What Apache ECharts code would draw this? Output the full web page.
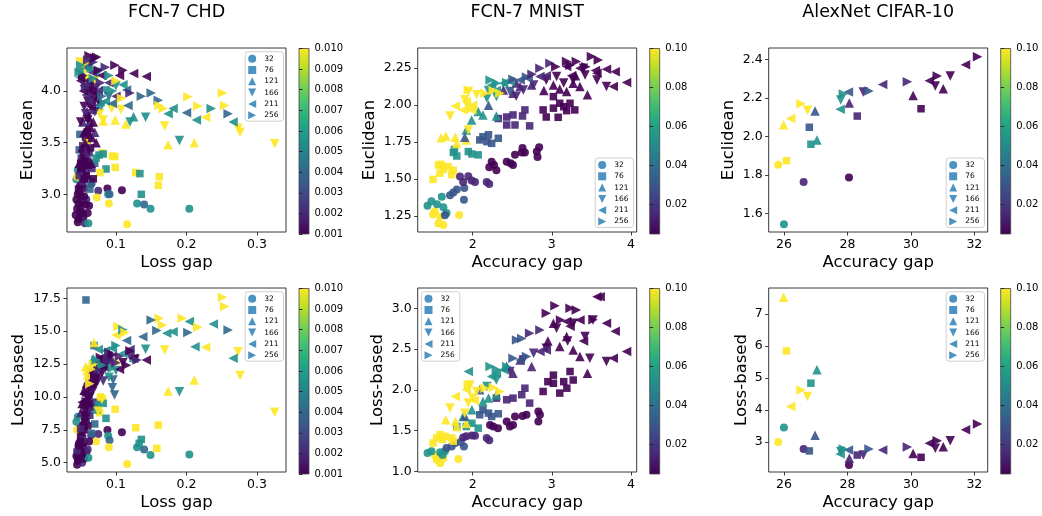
<!DOCTYPE html>
<html><head><meta charset="utf-8">
<script src="https://cdn.jsdelivr.net/npm/echarts@6/dist/echarts.min.js"></script>
<style>html,body{margin:0;padding:0;background:#fff}#c{width:1042px;height:516px}</style>
</head><body><div id="c"></div>
<script>
// ---------- DATA ----------
const titles = ['FCN-7 CHD', 'FCN-7 MNIST', 'AlexNet CIFAR-10'];
const markerNames = ['32', '76', '121', '166', '211', '256'];
// colour levels (colour value per level index)
const chdLevels = [0.001, 0.002, 0.004, 0.0055, 0.01];
const imgLevels = [0.005, 0.015, 0.03, 0.053, 0.1];
// tick labels
const chdXTicks = [0.1, 0.2, 0.3];
const chdEucTicks = [3.0, 3.5, 4.0];
const chdLossTicks = [5.0, 7.5, 10.0, 12.5, 15.0, 17.5];
const mnistXTicks = [2, 3, 4];
const mnistEucTicks = [1.25, 1.5, 1.75, 2.0, 2.25];
const mnistLossTicks = [1.0, 1.5, 2.0, 2.5, 3.0];
const cifarXTicks = [26, 28, 30, 32];
const cifarEucTicks = [1.6, 1.8, 2.0, 2.2, 2.4];
const cifarLossTicks = [3, 4, 5, 6, 7];
const chdCbarTicks = [0.001, 0.002, 0.003, 0.004, 0.005, 0.006, 0.007, 0.008, 0.009, 0.010];
const imgCbarTicks = [0.02, 0.04, 0.06, 0.08, 0.10];

// points: [x, y, levelIndex, markerIndex]
const chdEuclidean = [
 [0.046,2.73,0,0],[0.049,2.83,0,0],[0.047,2.91,0,0],[0.054,2.78,0,0],[0.056,2.72,1,0],[0.062,2.89,0,0],[0.051,2.98,1,0],[0.045,2.86,0,0],[0.052,2.93,0,0],[0.058,2.95,1,0],[0.048,3.02,0,0],[0.055,3.06,0,0],[0.05,2.8,1,0],[0.044,2.95,0,0],[0.088,3.055,0,0],[0.1085,3.04,0,0],[0.089,3.0,3,0],[0.091,3.0,2,0],[0.09,2.91,4,0],[0.075,3.035,1,0],[0.061,2.72,3,0],[0.116,2.71,4,0],[0.13,2.91,3,0],[0.14,2.9,2,0],[0.149,2.86,3,0],[0.204,2.86,3,0],[0.044,3.145,3,0],[0.046,3.235,3,0],[0.045,3.17,4,0],[0.073,2.97,4,0],[0.065,3.1,1,0],[0.06,3.15,0,0],[0.057,3.22,1,0],
 [0.047,2.76,0,0],[0.05,2.87,0,0],[0.053,2.82,0,0],[0.057,2.9,0,0],[0.046,3.0,0,0],[0.049,3.08,0,0],[0.052,3.1,0,0],[0.043,2.8,0,0],[0.055,2.98,0,0],[0.06,2.82,0,0],
 [0.136,3.0,3,1],[0.16,3.087,4,1],[0.1615,3.17,4,1],[0.128,3.21,4,1],[0.134,3.2,3,1],[0.0986,3.365,4,1],[0.095,3.37,4,1],[0.0991,3.26,4,1],[0.086,3.245,3,1],[0.0774,3.21,4,1],[0.08,3.4,4,1],[0.076,3.38,3,1],[0.082,3.39,3,1],[0.0656,3.12,2,1],[0.063,3.05,2,1],[0.048,3.43,2,1],[0.049,3.58,2,1],[0.051,3.35,1,1],[0.055,3.28,0,1],[0.058,3.18,0,1],[0.06,3.32,0,1],[0.062,3.4,1,1],[0.053,3.12,1,1],[0.047,3.05,0,1],[0.05,3.22,0,1],[0.066,3.25,1,1],[0.07,3.3,2,1],[0.072,3.35,3,1],[0.064,3.45,0,1],[0.059,3.5,1,1],[0.068,3.15,0,1],[0.054,3.38,0,1],
 [0.052,3.25,0,1],[0.056,3.35,0,1],[0.058,3.42,0,1],[0.061,3.28,0,1],[0.05,3.3,0,1],[0.053,3.47,1,1],[0.057,3.55,0,1],[0.048,3.18,1,1],[0.06,3.6,0,1],[0.055,3.15,0,1],
 [0.174,3.48,4,2],[0.211,3.5,4,2],[0.125,3.75,3,2],[0.114,3.68,4,2],[0.099,3.72,4,2],[0.082,3.71,4,2],[0.058,3.53,4,2],[0.055,3.6,0,2],[0.06,3.65,0,2],[0.063,3.7,1,2],[0.052,3.45,0,2],[0.057,3.4,1,2],[0.066,3.55,0,2],[0.07,3.6,1,2],[0.061,3.75,0,2],[0.067,3.82,1,2],[0.072,3.5,0,2],[0.065,3.3,0,2],[0.074,3.85,3,2],[0.078,3.9,2,2],[0.053,3.7,1,2],[0.048,3.3,0,2],
 [0.058,3.62,0,2],[0.062,3.58,0,2],[0.059,3.8,0,2],[0.064,3.65,0,2],[0.056,3.5,0,2],[0.068,3.7,0,2],[0.054,3.35,0,2],
 [0.325,3.49,4,3],[0.276,3.6,4,3],[0.273,3.64,4,3],[0.169,3.66,4,3],[0.142,3.745,3,3],[0.19,3.52,3,3],[0.12,3.7,3,3],[0.094,3.83,4,3],[0.107,3.82,4,3],[0.077,3.78,4,3],[0.082,3.72,4,3],[0.08,3.86,3,3],[0.049,4.28,4,3],[0.058,4.12,4,3],[0.056,4.2,4,3],[0.064,4.25,3,3],[0.07,4.1,4,3],[0.06,3.9,0,3],[0.062,3.98,1,3],[0.055,3.85,0,3],[0.066,3.95,0,3],[0.072,4.03,1,3],[0.057,3.78,1,3],[0.05,3.7,0,3],[0.085,4.0,3,3],[0.09,3.95,2,3],[0.1,4.05,3,3],[0.075,4.18,3,3],
 [0.064,3.85,0,3],[0.068,3.9,0,3],[0.063,4.0,0,3],[0.07,3.8,1,3],[0.073,3.95,0,3],[0.06,3.72,0,3],
 [0.214,3.72,3,4],[0.2,3.79,2,4],[0.181,3.83,3,4],[0.174,3.78,3,4],[0.266,3.7,3,4],[0.227,3.745,4,4],[0.115,4.01,2,4],[0.117,3.86,2,4],[0.0476,4.2,3,4],[0.049,4.13,3,4],[0.143,4.14,0,4],[0.125,4.17,0,4],[0.105,4.15,0,4],[0.11,4.06,3,4],[0.09,4.08,1,4],[0.08,4.15,0,4],[0.062,4.05,0,4],[0.067,4.18,1,4],[0.058,3.96,1,4],[0.054,4.0,0,4],[0.07,3.92,0,4],[0.075,4.0,1,4],[0.085,3.9,3,4],[0.095,3.88,2,4],[0.05,4.1,0,4],[0.06,4.22,2,4],[0.1,3.95,1,4],[0.065,3.85,0,4],
 [0.055,4.05,1,4],[0.06,4.1,0,4],[0.058,4.25,1,4],[0.066,4.0,0,4],[0.062,3.9,1,4],
 [0.062,4.34,0,5],[0.0727,4.33,0,5],[0.0986,4.25,0,5],[0.11,4.2,0,5],[0.136,3.95,2,5],[0.15,3.98,2,5],[0.16,3.91,2,5],[0.161,3.86,4,5],[0.167,3.83,4,5],[0.202,3.945,4,5],[0.216,3.855,4,5],[0.235,3.83,3,5],[0.251,3.98,4,5],[0.254,3.86,4,5],[0.259,3.78,2,5],[0.058,4.27,4,5],[0.065,4.22,3,5],[0.075,4.2,0,5],[0.085,4.23,1,5],[0.09,4.15,3,5],[0.1,4.1,4,5],[0.068,4.12,3,5],[0.078,4.08,1,5],[0.053,4.15,0,5],[0.057,4.05,1,5],[0.08,3.95,2,5],[0.095,4.0,3,5],[0.12,3.98,1,5],[0.108,3.93,4,5],
 [0.06,4.3,1,5],[0.068,4.28,1,5],[0.07,4.32,0,5],[0.05,4.25,3,5],[0.048,4.18,3,5]
];
const chdLossBased = [
 [0.045,4.85,0,0],[0.047,5.1,0,0],[0.05,5.4,0,0],[0.046,5.7,0,0],[0.052,5.0,1,0],[0.055,5.3,0,0],[0.049,6.0,1,0],[0.058,5.8,0,0],[0.053,6.2,0,0],[0.06,6.0,1,0],[0.044,5.5,0,0],[0.048,6.5,0,0],[0.088,7.48,0,0],[0.1085,7.31,0,0],[0.075,7.18,1,0],[0.089,7.05,3,0],[0.091,6.7,2,0],[0.13,6.17,3,0],[0.149,5.58,3,0],[0.204,5.63,3,0],[0.09,6.17,4,0],[0.072,6.6,4,0],[0.116,4.9,4,0],[0.061,5.38,3,0],[0.14,6.01,2,0],[0.044,8.12,3,0],[0.046,8.5,3,0],[0.045,7.5,4,0],[0.065,7.1,1,0],[0.062,6.6,0,0],
 [0.046,5.2,0,0],[0.048,5.5,0,0],[0.05,5.9,0,0],[0.047,6.3,0,0],[0.052,5.6,0,0],[0.045,5.9,1,0],[0.051,6.8,0,0],[0.054,6.5,0,0],
 [0.0576,17.37,2,1],[0.099,9.06,4,1],[0.081,9.72,4,1],[0.077,8.8,4,1],[0.128,7.66,4,1],[0.16,7.86,4,1],[0.158,6.09,4,1],[0.086,8.37,3,1],[0.136,6.77,3,1],[0.133,6.47,3,1],[0.082,9.51,3,1],[0.07,7.94,2,1],[0.0656,7.23,2,1],[0.069,13.9,2,1],[0.05,7.0,0,1],[0.055,7.5,0,1],[0.058,8.2,1,1],[0.053,6.8,1,1],[0.06,7.8,0,1],[0.063,8.6,1,1],[0.048,6.3,0,1],[0.066,9.2,0,1],[0.07,9.6,1,1],[0.073,9.0,3,1],[0.062,9.8,2,1],[0.057,10.3,1,1],[0.078,10.0,4,1],[0.075,9.4,3,1],
 [0.052,7.3,0,1],[0.054,7.8,0,1],[0.056,8.4,0,1],[0.058,8.8,0,1],[0.05,7.6,1,1],[0.06,9.0,1,1],[0.055,9.3,0,1],[0.062,9.5,0,1],[0.05,6.6,0,1],
 [0.174,10.45,4,2],[0.211,11.29,4,2],[0.069,14.13,4,2],[0.059,12.0,4,2],[0.062,11.5,4,2],[0.055,10.5,0,2],[0.058,11.0,0,2],[0.06,10.0,1,2],[0.065,11.8,1,2],[0.07,12.3,0,2],[0.075,12.6,3,2],[0.08,12.9,3,2],[0.085,12.5,1,2],[0.09,13.0,0,2],[0.052,9.5,0,2],[0.05,8.8,1,2],[0.068,12.9,3,2],[0.125,13.0,3,2],[0.1,12.8,4,2],[0.057,12.3,4,2],
 [0.058,9.8,0,2],[0.061,10.5,0,2],[0.064,11.2,0,2],[0.067,11.0,1,2],[0.072,11.8,0,2],[0.066,12.4,3,2],[0.06,11.7,4,2],[0.054,8.2,0,2],
 [0.142,13.62,3,3],[0.19,10.4,3,3],[0.169,13.57,4,3],[0.276,11.62,4,3],[0.273,13.44,4,3],[0.325,8.83,4,3],[0.127,12.86,0,3],[0.096,11.29,2,3],[0.098,10.15,2,3],[0.095,10.7,2,3],[0.06,9.3,0,3],[0.065,10.2,1,3],[0.07,10.8,0,3],[0.075,11.3,1,3],[0.08,11.8,0,3],[0.085,12.2,1,3],[0.09,11.5,3,3],[0.1,12.0,3,3],[0.055,8.6,0,3],[0.11,12.6,0,3],[0.12,13.1,1,3],[0.08,9.8,4,3],[0.075,8.9,4,3],[0.07,12.1,4,3],
 [0.063,10.0,0,3],[0.068,10.9,0,3],[0.072,11.4,1,3],[0.078,12.1,0,3],[0.082,11.2,1,3],[0.057,9.6,0,3],
 [0.181,14.96,3,4],[0.172,14.84,3,4],[0.204,15.73,3,4],[0.238,15.55,3,4],[0.212,13.82,3,4],[0.266,12.94,3,4],[0.227,13.77,4,4],[0.138,14.58,2,4],[0.115,14.28,2,4],[0.1,14.71,4,4],[0.143,12.81,0,4],[0.125,12.94,0,4],[0.105,12.1,0,4],[0.11,13.3,3,4],[0.09,12.7,1,4],[0.085,13.5,3,4],[0.08,13.0,0,4],[0.072,12.6,1,4],[0.065,11.9,0,4],[0.06,11.0,1,4],[0.056,10.2,0,4],[0.052,9.6,0,4],[0.095,13.7,3,4],[0.075,13.6,3,4],[0.12,13.6,1,4],[0.068,11.2,0,4],
 [0.074,12.2,0,4],[0.078,12.7,1,4],[0.083,12.3,0,4],[0.088,13.1,0,4],[0.062,10.7,0,4],[0.07,11.5,0,4],
 [0.251,17.58,4,5],[0.254,16.87,4,5],[0.161,15.98,4,5],[0.166,15.47,4,5],[0.194,15.98,4,5],[0.216,15.3,4,5],[0.15,15.85,2,5],[0.158,15.04,2,5],[0.259,15.09,2,5],[0.202,14.9,2,5],[0.103,15.35,4,5],[0.11,15.1,3,5],[0.113,14.9,4,5],[0.1,13.9,3,5],[0.09,13.4,1,5],[0.085,12.8,0,5],[0.08,12.4,3,5],[0.075,12.0,1,5],[0.07,11.6,0,5],[0.105,13.1,1,5],[0.12,13.5,0,5],[0.13,12.8,1,5],[0.115,12.4,0,5],[0.063,11.0,4,5],[0.068,12.5,4,5],[0.095,12.2,3,5],
 [0.078,13.0,0,5],[0.088,12.9,1,5],[0.095,13.2,0,5],[0.1,12.6,1,5],[0.072,12.8,3,5],[0.065,12.1,4,5]
];
const mnistEuclidean = [
 [1.52,1.28,4,0],[1.59,1.245,4,0],[1.567,1.2,4,0],[1.63,1.19,4,0],[1.5,1.26,4,0],[1.83,1.257,4,0],[1.43,1.32,3,0],[1.48,1.35,3,0],[1.55,1.33,3,0],[1.63,1.31,3,0],[1.67,1.27,3,0],[1.61,1.38,3,0],[1.65,1.256,2,0],[1.714,1.39,2,0],[1.756,1.41,2,0],[1.8,1.43,2,0],[1.895,1.44,2,0],[1.89,1.36,2,0],[1.84,1.517,1,0],[1.945,1.52,1,0],[1.987,1.49,1,0],[2.03,1.48,1,0],[1.88,1.48,1,0],[2.177,1.48,1,0],[2.21,1.467,1,0],[2.24,1.618,0,0],[2.27,1.595,0,0],[2.3,1.56,0,0],[2.21,1.58,0,0],[2.43,1.618,0,0],[2.48,1.607,0,0],[2.51,1.595,0,0],[2.535,1.664,0,0],[2.62,1.68,0,0],[2.66,1.68,0,0],[2.63,1.71,0,0],[2.81,1.686,0,0],[2.84,1.715,0,0],[2.82,1.65,0,0],
 [1.5,1.498,4,1],[1.567,1.595,4,1],[1.63,1.566,4,1],[1.69,1.584,4,1],[1.756,1.56,4,1],[1.735,1.53,4,1],[1.587,1.54,4,1],[1.6,1.6,4,1],[1.756,1.68,3,1],[1.8,1.656,3,1],[1.945,1.686,3,1],[1.99,1.67,3,1],[2.07,1.664,3,1],[1.77,1.7,3,1],[2.09,1.765,2,1],[2.13,1.787,2,1],[2.18,1.753,2,1],[2.24,1.742,2,1],[2.324,1.776,2,1],[2.2,1.8,2,1],[2.324,1.91,1,1],[2.43,1.866,1,1],[2.535,1.866,1,1],[2.51,1.934,1,1],[2.63,1.927,1,1],[2.72,1.86,1,1],[2.66,1.968,1,1],[2.43,1.92,1,1],[2.89,1.968,0,1],[3.02,1.98,0,1],[3.1,2.013,0,1],[3.187,1.963,0,1],[3.29,1.968,0,1],[2.93,1.92,0,1],[3.08,1.918,0,1],[3.23,2.013,0,1],[3.02,2.058,0,1],[3.15,1.99,0,1],
 [1.66,1.792,4,2],[1.78,1.783,4,2],[1.92,1.765,4,2],[1.8,1.74,4,2],[1.6,1.78,4,2],[1.987,1.9,3,2],[2.13,1.934,3,2],[2.3,1.927,3,2],[2.07,1.957,3,2],[1.92,1.832,3,2],[1.9,1.783,2,2],[2.2,2.0,2,2],[2.39,2.103,1,2],[2.6,2.126,1,2],[2.745,2.137,1,2],[2.51,2.08,1,2],[2.55,2.15,1,2],[3.02,2.137,0,2],[3.187,2.092,0,2],[3.355,2.126,0,2],[3.45,2.07,0,2],[3.27,2.148,0,2],[3.1,2.11,0,2],[2.9,2.1,0,2],[3.3,2.2,0,2],
 [1.714,1.927,4,3],[1.945,2.092,4,3],[1.945,1.832,4,3],[1.9,2.036,4,3],[2.05,2.07,4,3],[1.95,1.98,4,3],[2.18,2.047,3,3],[2.3,2.058,3,3],[2.2,2.1,3,3],[2.47,2.092,2,3],[2.64,2.103,1,3],[2.77,2.137,1,3],[2.55,2.06,1,3],[2.93,2.17,0,3],[3.06,2.194,0,3],[3.27,2.17,0,3],[3.42,2.205,0,3],[3.57,2.17,0,3],[3.69,2.126,0,3],[3.4,2.25,0,3],[3.15,2.15,0,3],
 [1.78,1.995,4,4],[1.92,2.024,4,4],[1.88,1.968,4,4],[1.99,1.968,4,4],[2.0,2.0,4,4],[2.24,2.137,3,4],[2.39,2.148,3,4],[2.47,2.16,3,4],[2.3,2.1,3,4],[2.6,2.17,2,4],[2.7,2.182,2,4],[2.85,2.194,1,4],[2.93,2.2,1,4],[3.187,2.261,0,4],[3.355,2.25,0,4],[3.57,2.216,0,4],[3.69,2.243,0,4],[3.8,2.227,0,4],[3.944,2.153,0,4],[3.776,2.126,0,4],[3.55,2.235,0,4],[3.25,2.2,0,4],
 [1.945,2.103,4,5],[2.156,2.08,4,5],[2.345,2.08,4,5],[2.26,2.1,4,5],[2.22,2.17,3,5],[2.3,2.148,3,5],[2.43,2.153,3,5],[2.51,2.175,2,5],[2.68,2.19,2,5],[2.85,2.25,1,5],[2.976,2.284,1,5],[2.75,2.21,1,5],[3.187,2.295,0,5],[3.31,2.295,0,5],[3.5,2.33,0,5],[3.587,2.306,0,5],[3.43,2.26,0,5],[3.23,2.27,0,5],[3.05,2.26,0,5]
];
const mnistLossBased = [
 [1.545,1.143,4,0],[1.59,1.1,4,0],[1.52,1.2,4,0],[1.63,1.16,4,0],[1.82,1.15,4,0],[1.56,1.17,4,0],[1.43,1.224,3,0],[1.48,1.245,3,0],[1.59,1.233,3,0],[1.65,1.245,3,0],[1.62,1.2,3,0],[1.67,1.286,2,0],[1.735,1.306,2,0],[1.78,1.347,2,0],[1.89,1.306,2,0],[1.85,1.36,2,0],[1.92,1.43,1,0],[1.99,1.44,1,0],[2.03,1.437,1,0],[1.88,1.416,1,0],[2.177,1.408,1,0],[2.21,1.38,1,0],[2.22,1.57,0,0],[2.26,1.55,0,0],[2.32,1.53,0,0],[2.43,1.612,0,0],[2.47,1.55,0,0],[2.51,1.57,0,0],[2.535,1.673,0,0],[2.63,1.68,0,0],[2.68,1.694,0,0],[2.83,1.735,0,0],[2.85,1.694,0,0],[2.83,1.612,0,0],
 [1.5,1.347,4,1],[1.59,1.45,4,1],[1.65,1.43,4,1],[1.735,1.41,4,1],[1.756,1.37,4,1],[1.545,1.41,4,1],[1.62,1.39,4,1],[1.8,1.55,3,1],[1.92,1.55,3,1],[1.99,1.59,3,1],[2.07,1.53,3,1],[2.09,1.694,2,1],[2.13,1.755,2,1],[2.2,1.714,2,1],[2.24,1.673,2,1],[2.324,1.706,2,1],[2.3,1.898,1,1],[2.43,1.878,1,1],[2.51,1.898,1,1],[2.62,1.94,1,1],[2.72,1.837,1,1],[2.66,2.02,1,1],[2.89,1.98,0,1],[3.02,2.08,0,1],[3.1,1.96,0,1],[3.19,2.02,0,1],[3.27,2.12,0,1],[3.23,2.225,0,1],[3.02,2.18,0,1],[2.95,2.1,0,1],[3.15,2.1,0,1],
 [1.66,1.633,4,2],[1.78,1.612,4,2],[1.92,1.59,4,2],[1.8,1.55,4,2],[1.88,1.673,3,2],[1.99,1.755,3,2],[2.13,1.857,3,2],[2.3,1.94,3,2],[2.2,1.9,3,2],[1.9,1.68,2,2],[2.09,2.0,2,2],[2.43,2.286,1,2],[2.6,2.367,1,2],[2.745,2.286,1,2],[2.51,2.204,1,2],[3.02,2.816,0,2],[3.187,2.653,0,2],[3.355,2.408,0,2],[3.45,2.204,0,2],[3.27,2.49,0,2],[3.1,2.53,0,2],[2.95,2.6,0,2],
 [1.714,1.776,4,3],[1.945,1.837,4,3],[1.9,1.714,4,3],[2.05,1.98,4,3],[1.966,2.06,4,3],[2.0,1.9,4,3],[2.18,2.04,3,3],[2.3,2.12,3,3],[2.47,2.224,1,3],[2.64,2.367,1,3],[2.77,2.45,1,3],[2.93,2.51,0,3],[3.06,2.755,0,3],[3.27,2.816,0,3],[3.42,2.653,0,3],[3.52,2.857,0,3],[3.69,2.347,0,3],[3.48,2.388,0,3],[3.2,2.6,0,3],
 [1.78,1.918,4,4],[1.92,2.0,4,4],[2.02,1.87,4,4],[1.945,2.224,3,4],[2.24,2.163,3,4],[2.39,2.245,3,4],[2.3,2.2,3,4],[2.6,2.367,2,4],[2.85,2.47,1,4],[2.93,2.49,1,4],[3.187,2.837,0,4],[3.355,2.857,0,4],[3.57,3.143,0,4],[3.61,3.143,0,4],[3.69,2.816,0,4],[3.8,2.72,0,4],[3.944,2.47,0,4],[3.776,2.388,0,4],[3.23,2.78,0,4],[3.4,2.6,0,4],
 [1.945,2.06,4,5],[2.156,2.02,4,5],[2.345,1.98,4,5],[2.26,2.03,4,5],[2.22,2.286,3,5],[2.3,2.25,3,5],[2.43,2.286,3,5],[2.51,2.388,2,5],[2.68,2.41,2,5],[2.555,2.61,2,5],[2.62,2.63,2,5],[2.72,2.694,1,5],[2.85,2.735,1,5],[2.93,2.94,0,5],[3.04,3.03,0,5],[3.23,3.0,0,5],[3.31,2.98,0,5],[3.11,2.857,0,5],[3.52,2.86,0,5]
];
// CIFAR-10: [accuracy gap, Euclidean, Loss-based, levelIndex, markerIndex]
const cifarPoints = [
 [25.82,1.854,3.0,4,0],[26.0,1.545,3.45,3,0],[26.62,1.764,2.78,1,0],[28.05,1.787,2.28,0,0],
 [26.08,1.875,5.85,4,1],[26.8,2.048,2.72,2,1],[26.85,1.96,4.84,3,1],[28.31,2.106,2.59,1,1],[30.32,2.144,2.52,0,1],
 [25.99,2.061,7.53,4,2],[26.98,2.132,3.21,2,2],[27.04,1.982,5.26,3,2],[28.06,2.174,2.49,1,2],[30.07,2.213,2.64,0,2],[31.02,2.248,2.85,0,2],
 [26.74,2.136,4.42,4,3],[27.79,2.189,2.7,3,3],[28.5,2.231,2.59,1,3],[30.77,2.262,2.8,0,3],[31.24,2.314,3.04,0,3],
 [26.21,2.094,4.11,4,4],[27.77,2.141,2.62,3,4],[28.03,2.231,2.75,2,4],[29.11,2.27,2.75,1,4],[30.58,2.289,2.96,0,4],[31.72,2.372,3.38,0,4],
 [26.54,2.17,4.63,4,5],[27.87,2.22,2.78,3,5],[28.68,2.236,2.78,2,5],[29.89,2.284,2.84,1,5],[30.83,2.314,3.04,0,5],[32.1,2.414,3.56,0,5]
];

// ---------- STYLE / LAYOUT ----------
const viridis = ['#440154','#482475','#414487','#355f8d','#2a788e','#21918c','#22a884','#44bf70','#7ad151','#bddf26','#fde725'];
const FONT = 'DejaVu Sans';
const shapes = [
  {symbol: 'circle', size: 8},
  {symbol: 'rect', size: 7.5},
  {symbol: 'path://M1,0L2,2L0,2Z', size: 9.5},
  {symbol: 'path://M0,0L2,0L1,2Z', size: 9.5},
  {symbol: 'path://M2,0L2,2L0,1Z', size: 9.5},
  {symbol: 'path://M0,0L2,1L0,2Z', size: 9.5}
];
const colLeft = [67, 417.7, 768.7];
const rowTop = [48, 288];
const plotW = 219, plotH = 184;

const cifarEuc = cifarPoints.map(p => [p[0], p[1], p[3], p[4]]);
const cifarLoss = cifarPoints.map(p => [p[0], p[2], p[3], p[4]]);

const panels = [
  {col:0,row:0,data:chdEuclidean,levels:chdLevels,xr:[0.0307,0.341],yr:[2.635,4.416],xt:chdXTicks,yt:chdEucTicks,xd:1,yd:1,xName:'Loss gap',yName:'Euclidean',yGap:31,cb:[0.001,0.010],cbt:chdCbarTicks,cbd:3,leg:{right:758.5,top:51.7}},
  {col:1,row:0,data:mnistEuclidean,levels:imgLevels,xr:[1.306,4.072],yr:[1.142,2.387],xt:mnistXTicks,yt:mnistEucTicks,xd:0,yd:2,xName:'Accuracy gap',yName:'Euclidean',yGap:39,cb:[0.005,0.1],cbt:imgCbarTicks,cbd:2,leg:{right:408.5,top:158}},
  {col:2,row:0,data:cifarEuc,levels:imgLevels,xr:[25.52,32.42],yr:[1.505,2.459],xt:cifarXTicks,yt:cifarEucTicks,xd:0,yd:1,xName:'Accuracy gap',yName:'Euclidean',yGap:31,cb:[0.005,0.1],cbt:imgCbarTicks,cbd:2,leg:{right:57.5,top:158}},
  {col:0,row:1,data:chdLossBased,levels:chdLevels,xr:[0.0307,0.341],yr:[4.29,18.28],xt:chdXTicks,yt:chdLossTicks,xd:1,yd:1,xName:'Loss gap',yName:'Loss-based',yGap:39.5,cb:[0.001,0.010],cbt:chdCbarTicks,cbd:3,leg:{right:758.5,top:291.7}},
  {col:1,row:1,data:mnistLossBased,levels:imgLevels,xr:[1.306,4.072],yr:[0.992,3.249],xt:mnistXTicks,yt:mnistLossTicks,xd:0,yd:1,xName:'Accuracy gap',yName:'Loss-based',yGap:31,cb:[0.005,0.1],cbt:imgCbarTicks,cbd:2,leg:{left:421.5,top:291.7}},
  {col:2,row:1,data:cifarLoss,levels:imgLevels,xr:[25.52,32.42],yr:[2.06,7.82],xt:cifarXTicks,yt:cifarLossTicks,xd:0,yd:0,xName:'Accuracy gap',yName:'Loss-based',yGap:18,cb:[0.005,0.1],cbt:imgCbarTicks,cbd:2,leg:{right:57.5,top:291.7}}
];

const grid = [], xAxis = [], yAxis = [], series = [], visualMap = [], legend = [];
const tickStyle = {show: true, length: 3.5, lineStyle: {color: '#222', width: 0.9}};

panels.forEach((p, i) => {
  grid.push({left: colLeft[p.col], top: rowTop[p.row], width: plotW, height: plotH, show: true, borderColor: '#222', borderWidth: 0.9, backgroundColor: '#fff'});
  xAxis.push({type: 'value', gridIndex: i, min: p.xr[0], max: p.xr[1],
    name: p.xName, nameLocation: 'middle', nameGap: 22, nameTextStyle: {fontSize: 16.5, color: '#000', fontFamily: FONT},
    axisLine: {show: false}, splitLine: {show: false},
    axisTick: Object.assign({customValues: p.xt}, tickStyle),
    axisLabel: {customValues: p.xt, formatter: v => v.toFixed(p.xd), color: '#000', fontSize: 12.5, margin: 6, fontFamily: FONT}});
  yAxis.push({type: 'value', gridIndex: i, min: p.yr[0], max: p.yr[1],
    name: p.yName, nameLocation: 'middle', nameGap: p.yGap, nameTextStyle: {fontSize: 16.5, color: '#000', fontFamily: FONT},
    axisLine: {show: false}, splitLine: {show: false},
    axisTick: Object.assign({customValues: p.yt}, tickStyle),
    axisLabel: {customValues: p.yt, formatter: v => v.toFixed(p.yd), color: '#000', fontSize: 12.5, margin: 6, fontFamily: FONT}});
  const idxs = [];
  shapes.forEach((s, m) => {
    idxs.push(series.length);
    series.push({type: 'scatter', name: 'p' + i + '_' + markerNames[m], xAxisIndex: i, yAxisIndex: i,
      symbol: s.symbol, symbolSize: s.size,
      itemStyle: {opacity: 0.9}, silent: true,
      data: p.data.filter(d => d[3] === m).map(d => [d[0], d[1], p.levels[d[2]]])});
  });
  visualMap.push({type: 'continuous', show: false, seriesIndex: idxs, dimension: 2, min: p.cb[0], max: p.cb[1], inRange: {color: viridis}});
  legend.push(Object.assign({orient: 'vertical',
    data: markerNames.map((n, m) => ({name: n, icon: shapes[m].symbol})), selectedMode: false,
    itemWidth: 8, itemHeight: 8, itemGap: 3.3, padding: [3, 5, 2, 3],
    backgroundColor: 'rgba(255,255,255,0.8)', borderColor: '#d0d0d0', borderWidth: 1, borderRadius: 3,
    textStyle: {fontSize: 7.5, color: '#000', fontFamily: FONT, padding: [0, 0, 0, 3]}}, p.leg));
});

// colour bars
const stops = viridis.map((c, k) => ({offset: k / (viridis.length - 1), color: c}));
panels.forEach((p, i) => {
  const gi = grid.length;
  grid.push({left: colLeft[p.col] + plotW + 13, top: rowTop[p.row] + 0.5, width: 10, height: 185.5, show: true,
    borderColor: '#444', borderWidth: 0.8,
    backgroundColor: new echarts.graphic.LinearGradient(0, 1, 0, 0, stops)});
  xAxis.push({type: 'value', gridIndex: gi, min: 0, max: 1, show: false});
  yAxis.push({type: 'value', gridIndex: gi, min: p.cb[0], max: p.cb[1], position: 'right',
    axisLine: {show: false}, splitLine: {show: false},
    axisTick: Object.assign({customValues: p.cbt}, tickStyle),
    axisLabel: {customValues: p.cbt, formatter: v => v.toFixed(p.cbd), color: '#000', fontSize: 10, margin: 5.5, fontFamily: FONT}});
});

// legend-only series (matplotlib default blue)
shapes.forEach((s, m) => {
  series.push({type: 'scatter', name: markerNames[m], xAxisIndex: 0, yAxisIndex: 0, data: [],
    symbol: s.symbol, symbolSize: s.size, itemStyle: {color: '#1f77b4'}});
});

const title = titles.map((t, k) => ({text: t, left: colLeft[k] + plotW / 2, top: 3, textAlign: 'center', padding: 0,
  textStyle: {fontSize: 17.5, fontWeight: 'normal', color: '#000', fontFamily: FONT}}));

const chart = echarts.init(document.getElementById('c'), null, {renderer: 'canvas'});
chart.setOption({animation: false, backgroundColor: '#fff', textStyle: {fontFamily: FONT},
  title, grid, xAxis, yAxis, series, visualMap, legend});
</script></body></html>
